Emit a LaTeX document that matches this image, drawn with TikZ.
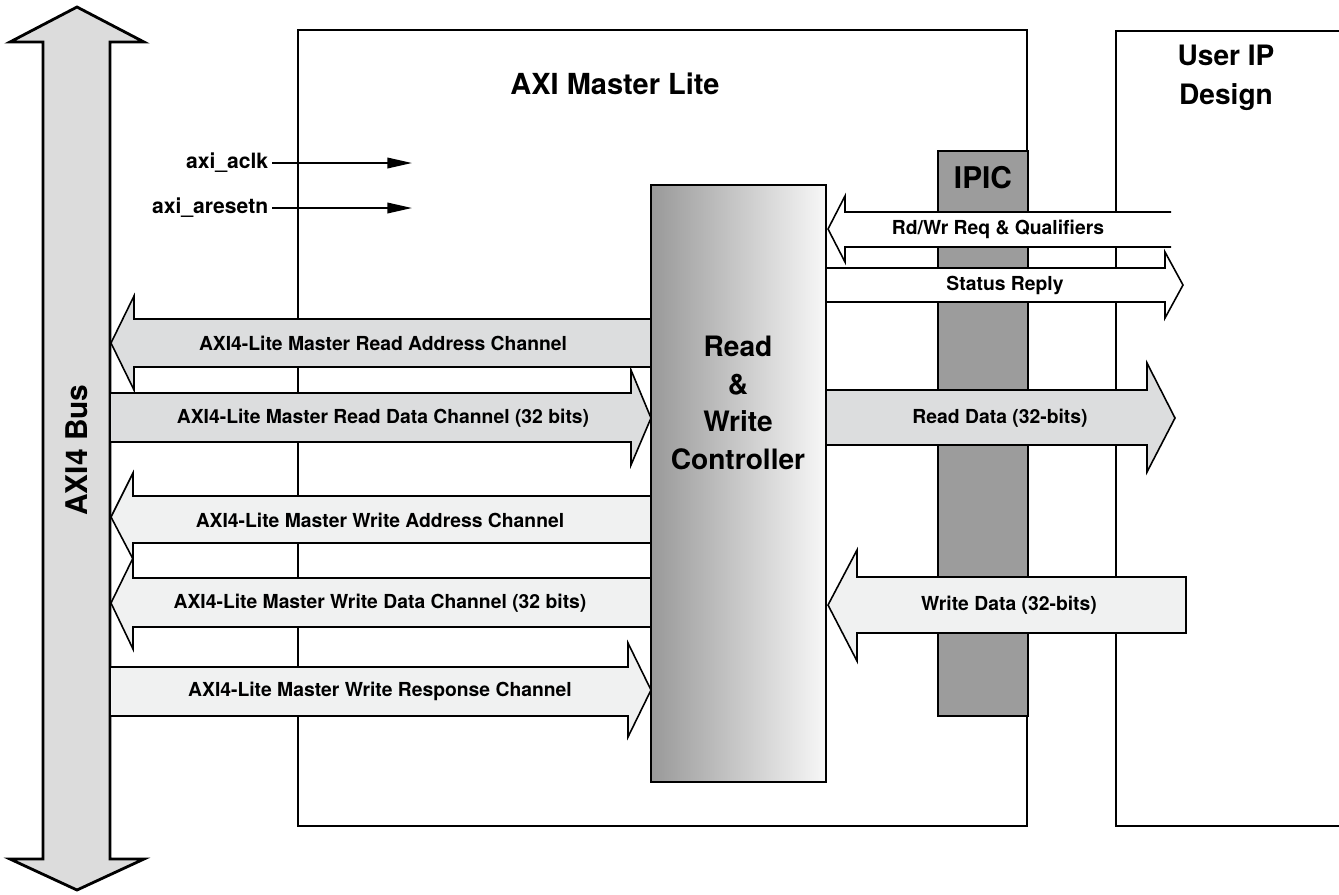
\documentclass[tikz,border=0pt]{standalone}
\usepackage{fontspec}
\setmainfont{TeX Gyre Heros}
\usepackage{tikz}
\usetikzlibrary{arrows.meta}

\definecolor{busgray}{HTML}{DCDCDC}
\definecolor{rdfill}{HTML}{DCDDDE}
\definecolor{wrfill}{HTML}{F0F1F1}
\definecolor{ipicgray}{HTML}{9C9C9C}
\definecolor{ctrldark}{HTML}{999999}

\tikzset{
	chan/.style={draw=black,line width=0.9pt,line join=miter},
	box/.style={draw=black,line width=1.1pt},
	lbl/.style={font=\bfseries\fontsize{11}{13}\selectfont,inner sep=0pt},
	big/.style={font=\bfseries\fontsize{16}{22}\selectfont,align=center,inner sep=0pt},
	sig/.style={font=\bfseries\fontsize{12}{14}\selectfont,anchor=east,inner sep=2pt},
	sigline/.style={line width=1pt,-{Triangle[length=14pt,width=6pt]}},
}

\begin{document}
\begin{tikzpicture}[x=0.02cm,y=-0.02cm]
		\useasboundingbox (0,0) rectangle (1339,894);
		
		% blocks
		\path[box,fill=white] (298,30) rectangle (1027,826);
		\path[box] (1345,31) -- (1116,31) -- (1116,826) -- (1345,826);
		\path[box,fill=ipicgray] (938,151) rectangle (1028,716);
		
		% AXI4 bus
		\path[draw=black,line width=1.6pt,fill=busgray,line join=miter] (77,7) -- (144,42) -- (110,42) -- (110,859) -- (144,859) -- (77,890) -- (10,859) -- (43,859) -- (43,42) -- (10,42) -- cycle;
		
		% bus side channels
		\path[chan,fill=rdfill] (111,343) -- (134,296) -- (134,319) -- (651,319) -- (651,367) -- (134,367) -- (134,390) -- cycle;
		\path[chan,fill=rdfill] (110,393) -- (631,393) -- (631,370) -- (651,418) -- (631,465) -- (631,442) -- (110,442) -- cycle;
		\path[chan,fill=wrfill] (111,517) -- (133,473) -- (133,496) -- (651,496) -- (651,543) -- (133,543) -- (133,559) -- cycle;
		\path[chan,fill=wrfill] (111,603) -- (133,558) -- (133,578) -- (651,578) -- (651,627) -- (133,627) -- (133,649) -- cycle;
		\path[chan,fill=wrfill] (110,667) -- (628,667) -- (628,643) -- (651,690) -- (628,737) -- (628,716) -- (110,716) -- cycle;
		
		% IPIC side
		\path[fill=white] (828,229) -- (845,196) -- (845,212) -- (1171,212) -- (1171,247) -- (845,247) -- (845,262) -- cycle;
		\path[chan] (1171,212) -- (845,212) -- (845,196) -- (828,229) -- (845,262) -- (845,247) -- (1171,247);
		\path[chan,fill=white] (826,268) -- (1165,268) -- (1165,252) -- (1183,285) -- (1165,318) -- (1165,302) -- (826,302);
		\path[chan,fill=rdfill] (826,390) -- (1147,390) -- (1147,363) -- (1175,418) -- (1147,472) -- (1147,445) -- (826,445);
		\path[chan,fill=wrfill] (828,605) -- (857,550) -- (857,577) -- (1186,577) -- (1186,633) -- (857,633) -- (857,661) -- cycle;
		
		% controller
		\path[draw=black,line width=1.5pt,left color=ctrldark,right color=white!97!black] (651,185) rectangle (826,782);
		
		% texts
		\node[font=\bfseries\fontsize{16.5}{20}\selectfont,inner sep=0pt] (title) at (615,84) {AXI Master Lite};
		\node[big] (user) at (1226,78) {User IP\\Design};
		\node[font=\bfseries\fontsize{17}{20}\selectfont,inner sep=0pt] (ipic) at (983,178) {IPIC};
		\node[big,font=\bfseries\fontsize{16}{21.5}\selectfont] (ctrl) at (738,403) {Read\\\&\\Write\\Controller};
		\node[font=\bfseries\fontsize{17}{20}\selectfont,inner sep=0pt,rotate=90] (bus) at (77,450) {AXI4 Bus};
		
		\node[lbl] (rdaddr) at (383,343) {AXI4-Lite Master Read Address Channel};
		\node[lbl] (rddata) at (383,418) {AXI4-Lite Master Read Data Channel (32 bits)};
		\node[lbl] (wraddr) at (380,520) {AXI4-Lite Master Write Address Channel};
		\node[lbl] (wrdata) at (380,603) {AXI4-Lite Master Write Data Channel (32 bits)};
		\node[lbl] (wrresp) at (380,691) {AXI4-Lite Master Write Response Channel};
		
		\node[lbl] (req) at (998,229) {Rd/Wr Req \& Qualifiers};
		\node[lbl] (status) at (1005,285) {Status Reply};
		\node[lbl] (ipread) at (1000,418) {Read Data (32-bits)};
		\node[lbl] (ipwrite) at (1009,605) {Write Data (32-bits)};
		
		% clock and reset
		\node[sig] (aclk) at (272,163) {axi\_aclk};
		\node[sig] (aresetn) at (272,208) {axi\_aresetn};
		\coordinate (aclkend) at (412,163);
		\coordinate (aresetnend) at (412,208);
		\draw[sigline] (aclk.east) -- (aclkend);
		\draw[sigline] (aresetn.east) -- (aresetnend);
	\end{tikzpicture}
\end{document}
